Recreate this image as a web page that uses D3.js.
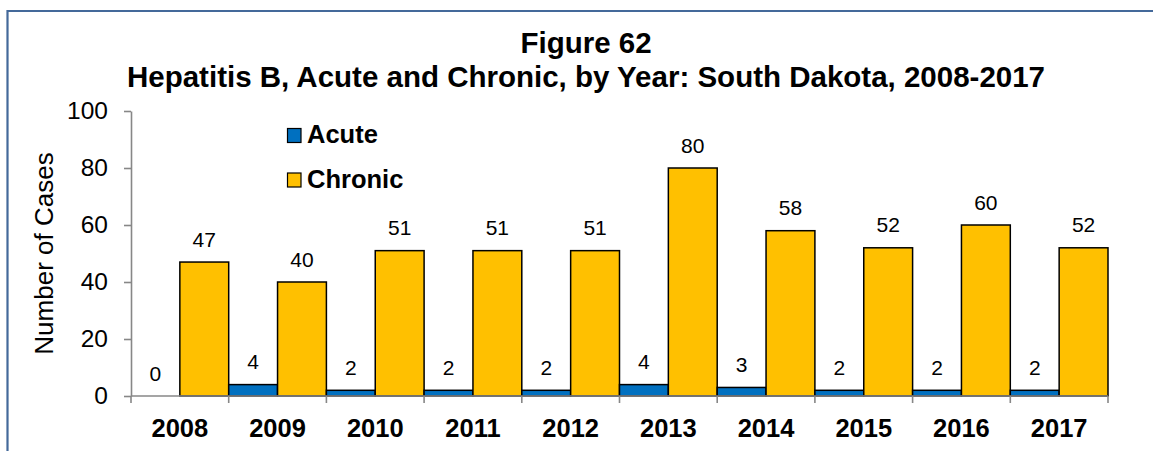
<!DOCTYPE html>
<html>
<head>
<meta charset="utf-8">
<script src="https://cdn.jsdelivr.net/npm/d3@7"></script>
<style>
  html, body { margin: 0; padding: 0; background: #fff; }
  svg { display: block; font-family: Arial, "Liberation Sans", sans-serif; }
</style>
</head>
<body>
<svg id="chart" width="1153" height="451"></svg>
<script>
const years = ["2008","2009","2010","2011","2012","2013","2014","2015","2016","2017"];
const acute = [0, 4, 2, 2, 2, 4, 3, 2, 2, 2];
const chronic = [47, 40, 51, 51, 51, 80, 58, 52, 60, 52];
const seriesNames = ["Acute", "Chronic"];
const seriesColors = ["#0070C0", "#FFC000"];
const yTicks = [0, 20, 40, 60, 80, 100];
const titleLines = ["Figure 62", "Hepatitis B, Acute and Chronic, by Year: South Dakota, 2008-2017"];
const yTitle = "Number of Cases";

const svg = d3.select("#chart");
const W = 1153, H = 451;

// outer frame (partially cropped)
svg.append("path")
  .attr("d", `M7.5,${H + 5} L7.5,11 L${W + 5},11`)
  .attr("fill", "none")
  .attr("stroke", "#44699A")
  .attr("stroke-width", 2.2);

const plot = { left: 131, right: 1108, top: 111, bottom: 396 };

const x = d3.scaleBand().domain(years).range([plot.left, plot.right]).padding(0);
const xs = d3.scaleBand().domain(seriesNames).range([0, x.bandwidth()]).padding(0);
const y = d3.scaleLinear().domain([0, 100]).range([plot.bottom, plot.top]);

const data = years.map((yr, i) => ({ year: yr, values: [acute[i], chronic[i]] }));

// title
svg.append("g").selectAll("text").data(titleLines).join("text")
  .attr("x", 586)
  .attr("y", (d, i) => i === 0 ? 53 : 87)
  .attr("text-anchor", "middle")
  .attr("font-weight", "bold")
  .attr("font-size", 29.5)
  .attr("fill", "#000")
  .text(d => d);

// bars
const groups = svg.append("g").selectAll("g").data(data).join("g")
  .attr("transform", d => `translate(${x(d.year)},0)`);

groups.selectAll("rect").data(d => d.values.map((v, k) => ({ v, k }))).join("rect")
  .attr("x", d => xs(seriesNames[d.k]))
  .attr("width", xs.bandwidth())
  .attr("y", d => y(d.v))
  .attr("height", d => y(0) - y(d.v))
  .attr("fill", d => seriesColors[d.k])
  .attr("stroke", "#000")
  .attr("stroke-width", d => d.v === 0 ? 0 : 1.5);

groups.selectAll("text").data(d => d.values.map((v, k) => ({ v, k }))).join("text")
  .attr("x", d => xs(seriesNames[d.k]) + xs.bandwidth() / 2)
  .attr("y", d => y(d.v) - 15.5)
  .attr("text-anchor", "middle")
  .attr("font-size", 21)
  .attr("fill", "#000")
  .text(d => d.v);

// y axis
const yAxis = svg.append("g")
  .attr("transform", `translate(${plot.left},0)`)
  .call(d3.axisLeft(y).tickValues(yTicks).tickSize(7).tickPadding(16).tickSizeOuter(0));
yAxis.select(".domain").attr("stroke", "#878787").attr("stroke-width", 1.6);
yAxis.selectAll(".tick line").attr("stroke", "#878787").attr("stroke-width", 1.6);
yAxis.selectAll(".tick text")
  .attr("font-size", 24.5)
  .attr("font-family", "Arial, 'Liberation Sans', sans-serif")
  .attr("fill", "#000");

// x axis line
svg.append("line")
  .attr("x1", plot.left).attr("x2", plot.right)
  .attr("y1", y(0)).attr("y2", y(0))
  .attr("stroke", "#878787").attr("stroke-width", 1.6);

// x tick marks at band boundaries
const boundaries = years.map(yr => x(yr)).concat([x(years[years.length - 1]) + x.bandwidth()]);
svg.append("g").selectAll("line").data(boundaries).join("line")
  .attr("x1", d => d).attr("x2", d => d)
  .attr("y1", y(0)).attr("y2", y(0) + 7)
  .attr("stroke", "#878787").attr("stroke-width", 1.6);

// category labels
svg.append("g").selectAll("text").data(years).join("text")
  .attr("x", d => x(d) + x.bandwidth() / 2)
  .attr("y", 436.5)
  .attr("text-anchor", "middle")
  .attr("font-weight", "bold")
  .attr("font-size", 25.5)
  .attr("fill", "#000")
  .text(d => d);

// y title
svg.append("text")
  .attr("transform", `translate(53,253.5) rotate(-90)`)
  .attr("text-anchor", "middle")
  .attr("font-size", 26)
  .attr("fill", "#000")
  .text(yTitle);

// legend
const legend = svg.append("g").selectAll("g").data(seriesNames).join("g")
  .attr("transform", (d, i) => `translate(287,${128 + i * 44.5})`);
legend.append("rect")
  .attr("x", 0.5).attr("y", 0.5)
  .attr("width", 13.5).attr("height", 14)
  .attr("fill", (d, i) => seriesColors[i])
  .attr("stroke", "#000").attr("stroke-width", 1.2);
legend.append("text")
  .attr("x", 20).attr("y", 15)
  .attr("font-weight", "bold")
  .attr("font-size", 25.5)
  .attr("fill", "#000")
  .text(d => d);
</script>
</body>
</html>
